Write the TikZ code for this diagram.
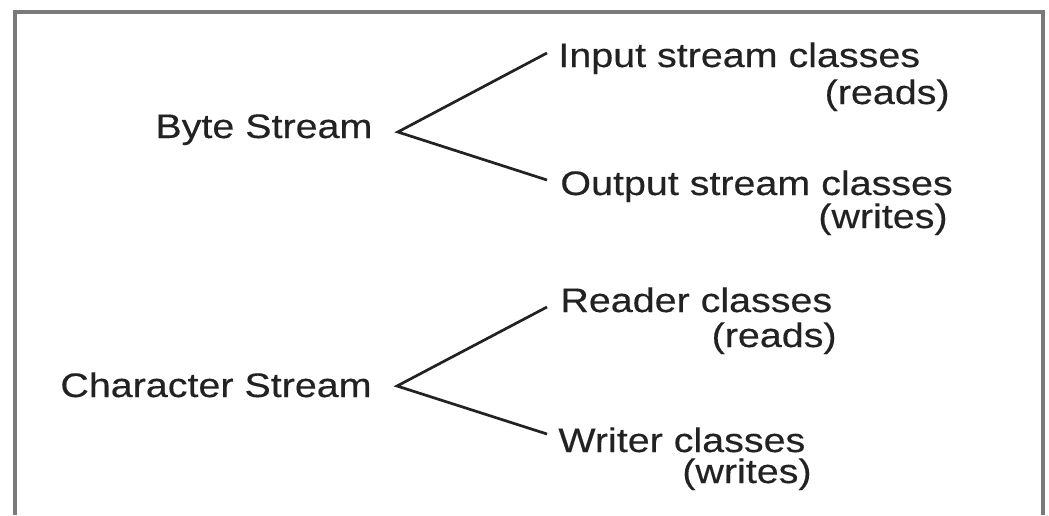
\documentclass[tikz,border=0pt]{standalone}
\usepackage{fontspec}
\newfontfamily\diagfont{Liberation Sans}[FakeStretch=1.16, FakeBold=0.35]
\definecolor{framegray}{HTML}{7A7A7A}
\definecolor{inkgray}{HTML}{222222}

\begin{document}
\begin{tikzpicture}[x=0.5pt, y=-0.5pt,
    lbl/.style={inner sep=0pt, text=inkgray, font=\diagfont\fontsize{17pt}{20pt}\selectfont},
    branch/.style={draw=inkgray, line width=1.35pt, line join=miter}]

        \useasboundingbox (0,0) rectangle (1049,515);
        \fill[white] (0,0) rectangle (1049,515);

        % 1) Frame round the picture (open at the bottom)
        \draw[framegray, line width=1.6pt] (15,515) -- (15,12) -- (1043,12) -- (1043,515);

        % 2) Byte stream and its two kinds of classes
        \node[lbl, anchor=base west] (byte) at (155,138) {Byte Stream};
        \node[lbl, anchor=base west] (inp)  at (558,67)  {Input stream classes};
        \node[lbl, anchor=base east] (inpr) at (950,104) {(reads)};
        \node[lbl, anchor=base west] (outp) at (560,195) {Output stream classes};
        \node[lbl, anchor=base east] (outw) at (948,228) {(writes)};

        % 3) Character stream and its two kinds of classes
        \node[lbl, anchor=base west] (chr)  at (60,397)  {Character Stream};
        \node[lbl, anchor=base west] (rdr)  at (560,312) {Reader classes};
        \node[lbl, anchor=base east] (rdrr) at (837,347) {(reads)};
        \node[lbl, anchor=base west] (wrt)  at (558,452) {Writer classes};
        \node[lbl, anchor=base east] (wrtw) at (812,483) {(writes)};

        % 4) Branch points and line ends
        \coordinate (byteV) at ([xshift=12.5pt, yshift=3pt]byte.base east);
        \coordinate (chrV)  at ([xshift=12.5pt, yshift=5.5pt]chr.base east);
        \coordinate (inpE)  at ([shift={(-11,-14)}]inp.base west);
        \coordinate (outpE) at ([shift={(-13,-15)}]outp.base west);
        \coordinate (rdrE)  at ([shift={(-13,-5)}]rdr.base west);
        \coordinate (wrtE)  at ([shift={(-11,-18)}]wrt.base west);

        % 5) The two forks
        \draw[branch] (inpE) -- (byteV) -- (outpE);
        \draw[branch] (rdrE) -- (chrV) -- (wrtE);

    \end{tikzpicture}
\end{document}
